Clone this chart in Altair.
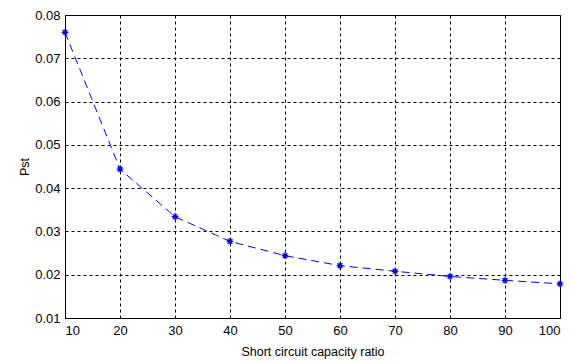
import altair as alt
import pandas as pd

ratio = [10, 20, 30, 40, 50, 60, 70, 80, 90, 100]
pst = [0.0760, 0.0444, 0.0334, 0.0277, 0.0244, 0.0221, 0.0208, 0.0196, 0.0187, 0.0179]

df = pd.DataFrame({"ratio": ratio, "pst": pst})

star = "M-1,0L1,0M0,-1L0,1M-0.7,-0.7L0.7,0.7M-0.7,0.7L0.7,-0.7"

x = alt.X("ratio:Q", scale=alt.Scale(domain=[10, 100], nice=False),
          axis=alt.Axis(values=ratio, title="Short circuit capacity ratio", format="d"))
y = alt.Y("pst:Q", scale=alt.Scale(domain=[0.01, 0.08], nice=False),
          axis=alt.Axis(values=[0.01, 0.02, 0.03, 0.04, 0.05, 0.06, 0.07, 0.08],
                        title="Pst", format=".2f"))

line = alt.Chart(df).mark_line(color="#0000ff", strokeWidth=1, strokeDash=[8, 5]).encode(x=x, y=y)
pts = alt.Chart(df).mark_point(shape=star, size=45, filled=False, color="#0000ff",
                               strokeWidth=1.3, opacity=1).encode(x=x, y=y)

chart = (line + pts).properties(
    width=495, height=303,
    autosize=alt.AutoSizeParams(type="none"),
    padding={"left": 57, "top": 7, "right": 4, "bottom": 45},
).configure_view(stroke="#000000", strokeWidth=1).configure_axis(
    grid=True, gridColor="#000000", gridDash=[3, 3], gridOpacity=1, gridWidth=1,
    domainColor="#000000", tickColor="#000000", ticks=False,
    labelFont="Liberation Sans", labelFontSize=13, labelColor="#000000",
    titleFont="Liberation Sans", titleFontSize=12.5, titleColor="#000000", titleFontWeight="normal",
).configure_axisX(labelPadding=6, titlePadding=8).configure_axisY(labelPadding=5, titlePadding=3)

chart.save("out.html", embed_options={"renderer": "svg", "actions": False})
